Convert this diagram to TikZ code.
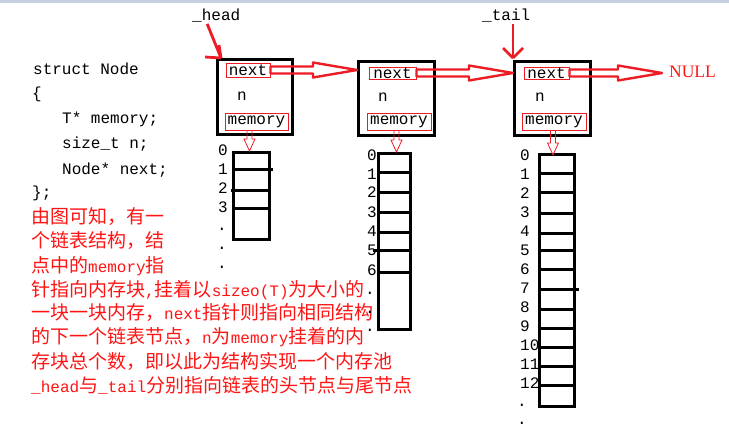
\documentclass[tikz,border=0pt]{standalone}
\usepackage{fontspec}
\setmainfont{Liberation Mono}
\newfontfamily\cjk{Noto Sans CJK SC}
\newfontfamily\serifnull{Liberation Serif}
\usetikzlibrary{calc}
\definecolor{pred}{HTML}{ED1C24}
\definecolor{tred}{HTML}{FF1414}
\definecolor{strip}{RGB}{200,208,224}
\newcommand\zh[1]{{\fontsize{19pt}{19pt}\cjk #1}}
\tikzset{
  lbl/.style={inner sep=0pt, font=\fontsize{16pt}{16pt}\selectfont},
  redtxt/.style={lbl, text=tred, anchor=base west},
  codetxt/.style={lbl, anchor=base west},
  nodebox/.style={draw=black, line width=3pt, inner sep=0pt},
  fieldbox/.style={lbl, draw=pred, line width=0.9pt},
  arrbox/.style={draw=black, line width=3pt, inner sep=0pt},
  arrline/.style={draw=black, line width=3pt},
  ptr/.style={draw=pred, line width=2.8pt},
  harrow/.style={draw=pred, line width=2.4pt, line join=round,
    to path={let \p1=(\tikztostart), \p2=(\tikztotarget) in
      (\x1,\y1+3.5pt) -- (\x2-44pt,\y1+3.5pt) -- (\x2-44pt,\y1+7.5pt) -- (\x2,\y1)
      -- (\x2-44pt,\y1-7.5pt) -- (\x2-44pt,\y1-3.5pt) -- (\x1,\y1-3.5pt) -- cycle}},
  varrow/.style={draw=pred, line width=0.8pt,
    to path={let \p1=(\tikztostart), \p2=(\tikztotarget) in
      (\x1+2.5pt,\y1) -- (\x1+2.5pt,\y2+12pt) -- (\x1+5.5pt,\y2+12pt) -- (\x1,\y2)
      -- (\x1-5.5pt,\y2+12pt) -- (\x1-2.5pt,\y2+12pt) -- (\x1-2.5pt,\y1) -- cycle}},
}
\begin{document}
\begin{tikzpicture}[x=1pt,y=-1pt]
\useasboundingbox (0,0) rectangle (729,434);
\fill[strip] (0,0) rectangle (729,2.5);

% struct code
\node[codetxt] (c1) at (33,74) {struct Node};
\node[codetxt] (c2) at (32,98) {\{};
\node[codetxt] (c3) at (62,123.5) {T* memory;};
\node[codetxt] (c4) at (62,148) {size\_t n;};
\node[codetxt] (c5) at (62,174) {Node* next;};
\node[codetxt] (c6) at (32,197) {\};};

% explanation
\node[redtxt] (t1) at (31,223) {\zh{由图可知，有一}};
\node[redtxt] (t2) at (31,247) {\zh{个链表结构，结}};
\node[redtxt] (t3) at (31,272) {\zh{点中的}memory\zh{指}};
\node[redtxt] (t4) at (31,296) {\zh{针指向内存块},\zh{挂着以}sizeo(T)\zh{为大小的}};
\node[redtxt] (t5) at (31,319) {\zh{一块一块内存，}next\zh{指针则指向相同结构}};
\node[redtxt] (t6) at (31,343) {\zh{的下一个链表节点，}n\zh{为}memory\zh{挂着的内}};
\node[redtxt] (t7) at (31,368) {\zh{存块总个数，即以此为结构实现一个内存池}};
\node[redtxt] (t8) at (31,392) {\_head\zh{与}\_tail\zh{分别指向链表的头节点与尾节点}};

% list nodes
\node[nodebox, minimum width=75pt, minimum height=75pt] (node1) at (255,97) {};
\node[nodebox, minimum width=76pt, minimum height=74pt] (node2) at (396.5,98.5) {};
\node[nodebox, minimum width=76pt, minimum height=74pt] (node3) at (552.5,98.5) {};

\node[fieldbox, minimum width=44pt, minimum height=14pt] (nx1) at (248,70) {next};
\node[fieldbox, minimum width=47pt, minimum height=12pt] (nx2) at (392.5,73) {next};
\node[fieldbox, minimum width=45pt, minimum height=12pt] (nx3) at (546.5,73) {next};
\node[lbl] (n1) at (242,96) {n};
\node[lbl] (n2) at (383,97) {n};
\node[lbl] (n3) at (540,97) {n};
\node[fieldbox, minimum width=63pt, minimum height=17pt] (mem1) at (256.5,121.5) {memory};
\node[fieldbox, minimum width=64pt, minimum height=17pt] (mem2) at (399,121.5) {memory};
\node[fieldbox, minimum width=64pt, minimum height=17pt] (mem3) at (554,121.5) {memory};

% head / tail pointers
\node[codetxt] (headlbl) at (192,20) {\_head};
\node[codetxt] (taillbl) at (482,20) {\_tail};
\coordinate (htip) at (221,58);
\coordinate (ttip) at (513,58);
\draw[ptr] ([xshift=-9pt,yshift=-2pt]headlbl.south) -- (htip);
\draw[ptr] (htip) -- ++(-16,-1) (htip) -- ++(-2,-13);
\draw[ptr] ([yshift=-2pt]taillbl.south -| ttip) -- (ttip);
\draw[ptr] (ttip) -- ++(-10,-10) (ttip) -- ++(10,-10);

% NULL
\node[inner sep=0pt, anchor=base west, text=tred, font=\serifnull\fontsize{17.5pt}{17.5pt}\selectfont] (null) at (669,77.5) {NULL};

% next arrows
\draw[harrow] (nx1.east) to (node2.west);
\draw[harrow] (nx2.east) to (node3.west);
\draw[harrow] (nx3.east) to ([xshift=-7pt]null.west);

% memory arrays
\node[arrbox, minimum width=36pt, minimum height=87pt] (arr1) at (251.5,196) {};
\node[arrbox, minimum width=32pt, minimum height=176pt] (arr2) at (394.5,241.5) {};
\node[arrbox, minimum width=35pt, minimum height=252pt] (arr3) at (557,280.5) {};

\draw[arrline] (233.5,169) -- (273,169);
\draw[arrline] (231,190) -- (269.5,190);
\draw[arrline] (233.5,208) -- (269.5,208);
\foreach \yy in {172,192,212,232,272} \draw[arrline] (378.5,\yy) -- (410.5,\yy);
\draw[arrline] (373,250) -- (410.5,250);
\foreach \yy in {173,192,213,233,250,269,309,328,347,366,385} \draw[arrline] (539.5,\yy) -- (574.5,\yy);
\draw[arrline] (539.5,289) -- (579,289);

\draw[varrow] ([xshift=-7pt]mem1.south) to (arr1.north);
\draw[varrow] ([xshift=-2.5pt]mem2.south) to (arr2.north);
\draw[varrow] ([xshift=-1pt]mem3.south) to ([yshift=-2pt]arr3.north);

% index labels
\foreach \t/\yy in {0/150,1/169,2/188,3/207} \node[lbl] (a1l\t) at (223,\yy) {\t};
\foreach \k/\yy in {1/229,2/248,3/267} \node[lbl] (a1d\k) at (222,\yy) {.};
\foreach \t/\yy in {0/155,1/174,2/192,3/212,4/231,5/250,6/270} \node[lbl] (a2l\t) at (372,\yy) {\t};
\foreach \k/\yy in {1/293,2/312,3/330} \node[lbl] (a2d\k) at (370,\yy) {.};
\foreach \t/\yy in {0/155,1/174,2/193,3/212,4/231,5/250,6/269,7/288,8/307,9/326,10/345,11/364,12/383}
  \node[lbl, anchor=west] (a3l\t) at (520,\yy) {\t};
\foreach \k/\yy in {1/405,2/423} \node[lbl] (a3d\k) at (522,\yy) {.};
\end{tikzpicture}
\end{document}
